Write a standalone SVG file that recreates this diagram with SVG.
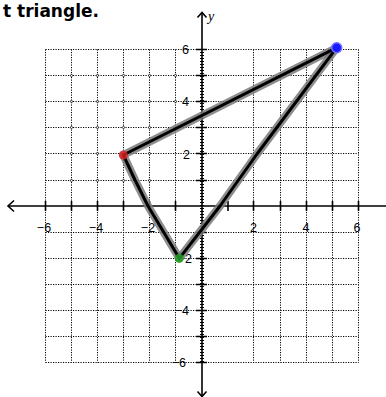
<svg xmlns="http://www.w3.org/2000/svg" width="386" height="397" viewBox="0 0 386 397">
<style>
.grid{stroke:#000;stroke-width:1;stroke-dasharray:1.2 1.3;fill:none}
.axis{stroke:#000;stroke-width:1.6;fill:none}
.tick{stroke:#000;stroke-width:1.6;fill:none}
.ruler{stroke:#000;stroke-width:4;stroke-dasharray:1 2;fill:none}
.knot{fill:#fff;stroke:#000;stroke-width:0.7}
.lbl{font-family:"Liberation Sans",Arial,sans-serif;font-size:12.5px;fill:#000}
.lbly{text-anchor:end}
.lblx{text-anchor:middle}
.title{font-family:"DejaVu Sans",sans-serif;font-weight:bold;font-size:17px;fill:#000}
.var{font-family:"Liberation Serif",serif;font-style:italic;font-size:14px;fill:#000}
.halo{stroke:#7a7a7a;stroke-opacity:0.85;stroke-width:8;fill:none;stroke-linecap:round;stroke-linejoin:round}
.core{stroke:#000;stroke-width:3;fill:none;stroke-linecap:round;stroke-linejoin:round}
</style>
<defs>
<path id="e1" d="M123.3,155 L336.7,47.7"/>
<path id="e2" d="M336.7,47.7 L257,154 L220,206 L179.3,258.3"/>
<path id="e3" d="M179.3,258.3 L148,206 L135,180 L123.3,155"/>
</defs>
<rect width="386" height="397" fill="#fff"/>
<text class="title" x="3" y="17">t triangle.</text>
<g id="grid">
<path class="grid" d="M45.5,49.5V362.5M71.5,49.5V362.5M97.5,49.5V362.5M123.5,49.5V362.5M149.5,49.5V362.5M175.5,49.5V362.5M253.5,49.5V362.5M280.5,49.5V362.5M306.5,49.5V362.5M332.5,49.5V362.5M358.5,49.5V362.5"/>
<path class="grid" d="M45.5,49.5H358.5M45.5,75.5H358.5M45.5,101.5H358.5M45.5,127.5H358.5M45.5,153.5H358.5M45.5,180.5H358.5M45.5,232.5H358.5M45.5,258.5H358.5M45.5,284.5H358.5M45.5,310.5H358.5M45.5,336.5H358.5M45.5,362.5H358.5"/>
<g>
<circle class="knot" cx="71.5" cy="75.5" r="1.1"/><circle class="knot" cx="97.5" cy="75.5" r="1.1"/><circle class="knot" cx="123.5" cy="75.5" r="1.1"/><circle class="knot" cx="149.5" cy="75.5" r="1.1"/><circle class="knot" cx="175.5" cy="75.5" r="1.1"/>
<circle class="knot" cx="71.5" cy="101.5" r="1.1"/><circle class="knot" cx="97.5" cy="101.5" r="1.1"/><circle class="knot" cx="123.5" cy="101.5" r="1.1"/><circle class="knot" cx="149.5" cy="101.5" r="1.1"/><circle class="knot" cx="175.5" cy="101.5" r="1.1"/>
<circle class="knot" cx="71.5" cy="127.5" r="1.1"/><circle class="knot" cx="97.5" cy="127.5" r="1.1"/><circle class="knot" cx="123.5" cy="127.5" r="1.1"/><circle class="knot" cx="149.5" cy="127.5" r="1.1"/>
<circle class="knot" cx="71.5" cy="153.5" r="1.1"/><circle class="knot" cx="97.5" cy="153.5" r="1.1"/><circle class="knot" cx="149.5" cy="153.5" r="1.1"/>
<circle class="knot" cx="71.5" cy="180.5" r="1.1"/><circle class="knot" cx="97.5" cy="180.5" r="1.1"/><circle class="knot" cx="123.5" cy="180.5" r="1.1"/><circle class="knot" cx="149.5" cy="180.5" r="1.1"/>
</g>
</g>
<g id="axes">
<path class="ruler" d="M202,49V363"/>
<path class="axis" d="M202,12.5V396.5M8,206H386"/>
<path class="axis" d="M197.5,17.5L202,12.5L206.5,17.5M197.5,391.5L202,396.5L206.5,391.5M14,200.5L8,206L14,211.5"/>
<path class="tick" d="M45.5,201V211M71.5,201V211M97.5,201V211M123.5,201V211M149.5,201V211M175.5,201V211M228,201V211M253.5,201V211M280.5,201V211M306.5,201V211M332.5,201V211M358.5,201V211"/>
<path class="tick" d="M196,49.5H207M196,75.5H207M196,101.5H207M196,127.5H207M196,153.5H207M196,180.5H207M196,232.5H207M196,258.5H207M196,284.5H207M196,310.5H207M196,336.5H207M196,362.5H207"/>
<text class="var" x="208" y="21">y</text>
</g>
<g id="labels">
<text class="lbl lblx" x="44" y="232">−6</text>
<text class="lbl lblx" x="96" y="232">−4</text>
<text class="lbl lblx" x="148" y="232">−2</text>
<text class="lbl lblx" x="253.5" y="232">2</text>
<text class="lbl lblx" x="306" y="232">4</text>
<text class="lbl lblx" x="357" y="232">6</text>
<text class="lbl lbly" x="189" y="54">6</text>
<text class="lbl lbly" x="189" y="106">4</text>
<text class="lbl lbly" x="190" y="158.5">2</text>
<text class="lbl lbly" x="192" y="262.5">−2</text>
<text class="lbl lbly" x="189" y="315">−4</text>
<text class="lbl lbly" x="186" y="367">−6</text>
</g>
<g id="connectors">
<use href="#e1" class="halo"/><use href="#e2" class="halo"/><use href="#e3" class="halo"/>
<use href="#e1" class="core"/><use href="#e2" class="core"/><use href="#e3" class="core"/>
</g>
<g id="point-red"><circle cx="123.3" cy="155" r="4.5" fill="#e02020" fill-opacity="0.8"/></g>
<g id="point-blue"><circle cx="336.7" cy="47.7" r="5" fill="#1a1aff" stroke="#7070ff" stroke-width="1.5"/></g>
<g id="point-green"><circle cx="179.3" cy="258.3" r="4.5" fill="#22a022" fill-opacity="0.85"/></g>
</svg>
